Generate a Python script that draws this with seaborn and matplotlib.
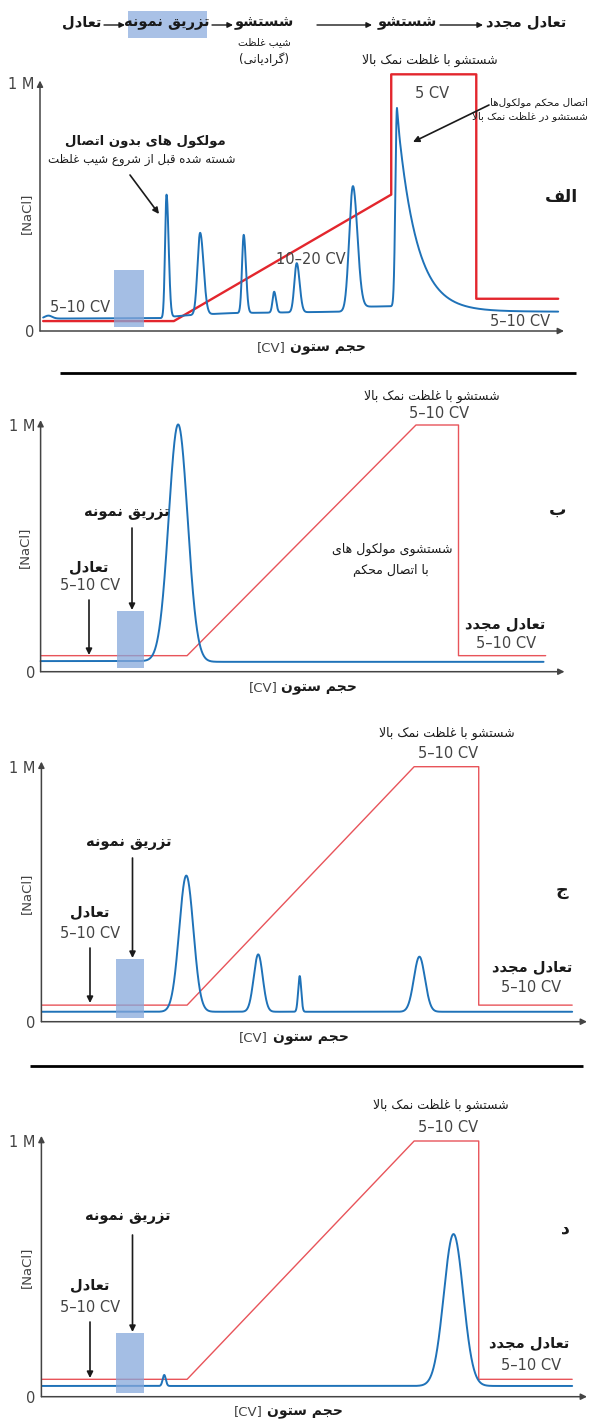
import numpy as np
import matplotlib
matplotlib.use("Agg")
import matplotlib.pyplot as plt
from matplotlib.patches import Rectangle
import seaborn as sns

W, H = 590, 1420
sns.set_theme(style="white")
plt.rcParams["font.family"] = ["DejaVu Sans Condensed", "DejaVu Sans"]

BLUE = "#1f72b8"
RED_A = "#e3262d"
RED = "#e8545a"
INJ = "#86a8db"
HEAD_BOX = "#a9c1e6"
GREY = "#444444"
INK = "#1a1a1a"
PX_PER_CV = 5.25

# ---- Persian shaping (matplotlib has no bidi / joining support) ----
FORMS = {  # isolated, final, initial, medial
    "ا": ("\uFE8D", "\uFE8E", None, None),
    "ب": ("\uFE8F", "\uFE90", "\uFE91", "\uFE92"),
    "ت": ("\uFE95", "\uFE96", "\uFE97", "\uFE98"),
    "ج": ("\uFE9D", "\uFE9E", "\uFE9F", "\uFEA0"),
    "ح": ("\uFEA1", "\uFEA2", "\uFEA3", "\uFEA4"),
    "د": ("\uFEA9", "\uFEAA", None, None),
    "ر": ("\uFEAD", "\uFEAE", None, None),
    "ز": ("\uFEAF", "\uFEB0", None, None),
    "س": ("\uFEB1", "\uFEB2", "\uFEB3", "\uFEB4"),
    "ش": ("\uFEB5", "\uFEB6", "\uFEB7", "\uFEB8"),
    "ص": ("\uFEB9", "\uFEBA", "\uFEBB", "\uFEBC"),
    "ظ": ("\uFEC5", "\uFEC6", "\uFEC7", "\uFEC8"),
    "ع": ("\uFEC9", "\uFECA", "\uFECB", "\uFECC"),
    "غ": ("\uFECD", "\uFECE", "\uFECF", "\uFED0"),
    "ف": ("\uFED1", "\uFED2", "\uFED3", "\uFED4"),
    "ق": ("\uFED5", "\uFED6", "\uFED7", "\uFED8"),
    "ل": ("\uFEDD", "\uFEDE", "\uFEDF", "\uFEE0"),
    "م": ("\uFEE1", "\uFEE2", "\uFEE3", "\uFEE4"),
    "ن": ("\uFEE5", "\uFEE6", "\uFEE7", "\uFEE8"),
    "ه": ("\uFEE9", "\uFEEA", "\uFEEB", "\uFEEC"),
    "و": ("\uFEED", "\uFEEE", None, None),
    "ی": ("\uFBFC", "\uFBFD", "\uFBFE", "\uFBFF"),
    "ک": ("\uFB8E", "\uFB8F", "\uFB90", "\uFB91"),
    "گ": ("\uFB92", "\uFB93", "\uFB94", "\uFB95"),
}


def joins_next(c):
    return c in FORMS and FORMS[c][2] is not None


def rtl(s):
    out = []
    i = 0
    while i < len(s):
        c = s[i]
        if c not in FORMS:
            if c != "\u200c":
                out.append(c)
            i += 1
            continue
        link_prev = i > 0 and joins_next(s[i - 1])
        if c == "ل" and i + 1 < len(s) and s[i + 1] == "ا":
            out.append("\uFEFC" if link_prev else "\uFEFB")
            i += 2
            continue
        nxt = s[i + 1] if i + 1 < len(s) else ""
        link_next = joins_next(c) and nxt in FORMS
        f = FORMS[c]
        if link_prev and link_next:
            out.append(f[3])
        elif link_prev:
            out.append(f[1])
        elif link_next:
            out.append(f[2])
        else:
            out.append(f[0])
        i += 1
    mirror = {"(": ")", ")": "(", "[": "]", "]": "["}
    return "".join(mirror.get(c, c) for c in reversed(out))


# ---- data (x in column volumes from the start, y in M NaCl) ----
# panel A: gradient elution
a_red_x = [0.6, 25.5, 66.9, 66.9, 83.1, 83.1, 98.7]
a_red_y = [0.04, 0.04, 0.55, 1.035, 1.035, 0.13, 0.13]
a_base_x = [0.6, 23.0, 27.0, 36.0, 58.0, 61.5, 68.0, 68.5, 98.7]
a_base_y = [0.050, 0.052, 0.062, 0.072, 0.078, 0.098, 0.100, 0.080, 0.078]
a_peak_x = [1.6, 24.1, 30.5, 38.8, 44.6, 48.9, 59.6, 68.0]
a_peak_h = [0.012, 0.495, 0.33, 0.315, 0.084, 0.198, 0.497, 0.80]
a_sig_l = [0.7, 0.28, 0.5, 0.32, 0.3, 0.45, 0.7, 0.3]
a_sig_r = [0.7, 0.4, 0.65, 0.42, 0.36, 0.55, 0.85, 0.3]
a_tail = [0, 0, 0, 0, 0, 0, 0, 3.6]
a_inject = [14.0, 19.8, 0.017, 0.247]

# panel B: one unbound peak
b_red_x = [0.0, 27.9, 71.5, 79.6, 79.6, 96.2]
b_red_y = [0.065, 0.065, 1.0, 1.0, 0.065, 0.065]
b_base_x = [0.0, 25.0, 30.0, 95.8]
b_base_y = [0.043, 0.043, 0.040, 0.040]
b_peak_x = [26.2]
b_peak_h = [0.96]
b_sig = [1.8]
b_inject = [14.5, 19.7, 0.016, 0.247]

# panel C: several peaks
c_red_x = [0.15, 27.75, 71.0, 83.3, 83.3, 101.1]
c_red_y = [0.065, 0.065, 1.0, 1.0, 0.065, 0.065]
c_base_x = [0.15, 101.1]
c_base_y = [0.039, 0.039]
c_peak_x = [27.6, 41.3, 49.2, 72.0]
c_peak_h = [0.534, 0.225, 0.14, 0.216]
c_sig = [1.35, 0.86, 0.29, 1.05]
c_inject = [14.3, 19.5, 0.015, 0.246]

# panel D: tightly bound peak
d_red_x = [0.15, 27.75, 71.0, 83.3, 83.3, 101.1]
d_red_y = [0.068, 0.068, 1.0, 1.0, 0.068, 0.068]
d_base_x = [0.15, 101.1]
d_base_y = [0.042, 0.042]
d_peak_x = [23.4, 78.5]
d_peak_h = [0.043, 0.594]
d_sig = [0.3, 1.85]
d_inject = [14.3, 19.5, 0.016, 0.249]


def chromatogram(x, base_x, base_y, cen, hgt, sl, sr, tail):
    y = np.interp(x, base_x, base_y)
    for c, h, a, b, t in zip(cen, hgt, sl, sr, tail):
        d = x - c
        left = np.exp(-0.5 * (d / a) ** 2)
        if t > 0:
            right = np.exp(-np.clip(d, 0, None) / t)
        else:
            right = np.exp(-0.5 * (d / b) ** 2)
        y = y + h * np.where(d < 0, left, right)
    return y


fig = plt.figure(figsize=(W / 100, H / 100), dpi=100)


def make_panel(x0, y0, m, xe, yt, ytip):
    ax = fig.add_axes([x0 / W, 1 - y0 / H, (xe - x0) / W, (y0 - yt) / H])
    xmax = (xe - x0) / PX_PER_CV
    ax.set_xlim(0, xmax)
    ax.set_ylim(0, (y0 - yt) / m)
    ax.patch.set_alpha(0)
    sns.despine(ax=ax, left=True, bottom=True)
    ax.set_xticks([])
    ax.set_yticks([0, 1], ["0", "1 M"])
    ax.tick_params(axis="y", length=0, pad=4, labelsize=10.5, labelcolor=GREY)
    ax.set_xlabel("")
    ax.set_ylabel("")
    ap = dict(arrowstyle="-|>", color=GREY, lw=1.1, mutation_scale=9, shrinkA=0, shrinkB=0)
    ax.annotate("", xy=(xmax, 0), xytext=(0, 0), arrowprops=ap, annotation_clip=False)
    ax.annotate("", xy=(0, ytip), xytext=(0, 0), arrowprops=ap, annotation_clip=False)
    return ax


def draw(ax, red_x, red_y, red_col, red_lw, base_x, base_y, cen, hgt, sl, sr, tail, inj):
    x = np.linspace(base_x[0], base_x[-1], 6000)
    y = chromatogram(x, base_x, base_y, cen, hgt, sl, sr, tail)
    sns.lineplot(x=red_x, y=red_y, ax=ax, color=red_col, lw=red_lw, sort=False, estimator=None)
    sns.lineplot(x=x, y=y, ax=ax, color=BLUE, lw=1.4, sort=False, estimator=None)
    for ln in ax.lines:
        ln.set_clip_on(False)
    ax.fill_between([inj[0], inj[1]], inj[2], inj[3], color=INJ, alpha=0.75, lw=0, zorder=5)


ax_a = make_panel(40.0, 331.0, 248.0, 564.0, 70.0, 1.01)
draw(ax_a, a_red_x, a_red_y, RED_A, 1.7, a_base_x, a_base_y,
     a_peak_x, a_peak_h, a_sig_l, a_sig_r, a_tail, a_inject)

ax_b = make_panel(40.6, 671.7, 246.7, 564.5, 418.0, 1.02)
draw(ax_b, b_red_x, b_red_y, RED, 1.0, b_base_x, b_base_y,
     b_peak_x, b_peak_h, b_sig, b_sig, [0] * len(b_sig), b_inject)

ax_c = make_panel(41.4, 1021.7, 255.0, 587.0, 760.0, 1.02)
draw(ax_c, c_red_x, c_red_y, RED, 1.0, c_base_x, c_base_y,
     c_peak_x, c_peak_h, c_sig, c_sig, [0] * len(c_sig), c_inject)

ax_d = make_panel(41.4, 1396.7, 255.7, 587.0, 1135.0, 1.02)
draw(ax_d, d_red_x, d_red_y, RED, 1.0, d_base_x, d_base_y,
     d_peak_x, d_peak_h, d_sig, d_sig, [0] * len(d_sig), d_inject)

# ---- overlay in pixel coordinates (y downwards) for text and pointers ----
ov = fig.add_axes([0, 0, 1, 1])
ov.set_xlim(0, W)
ov.set_ylim(H, 0)
ov.axis("off")
ov.patch.set_visible(False)


def label(x, y, s, size=10, bold=False, color=INK, ha="center", rot=0):
    ov.text(x, y, s, fontsize=size, fontweight="bold" if bold else "normal",
            color=color, ha=ha, va="center", rotation=rot)


def pointer(x1, y1, x2, y2, lw=1.2, head=9):
    ov.annotate("", xy=(x2, y2), xytext=(x1, y1),
                arrowprops=dict(arrowstyle="-|>", color=INK, lw=lw,
                                mutation_scale=head, shrinkA=0, shrinkB=0))


def xlabel(x_cv_right, x_fa_left, y):
    label(x_cv_right, y, "[CV]", size=9.5, color=GREY, ha="right")
    label(x_fa_left, y, rtl("حجم ستون"), size=10, bold=True, ha="left")


CV = 10.5     # latin "x–y CV" notes
BIG = 10.5    # bold persian step names
NOTE = 9      # regular persian notes

# header
ov.add_patch(Rectangle((128, 11), 79, 27, color=HEAD_BOX, lw=0))
label(82, 22, rtl("تعادل"), BIG, True)
label(167, 22, rtl("تزریق نمونه"), BIG, True)
label(264, 22, rtl("شستشو"), BIG, True)
label(264, 42, rtl("شیب غلظت"), 7.5)
label(264, 59, rtl("(گرادیانی)"), 8.5)
label(407, 22, rtl("شستشو"), BIG, True)
label(526, 22, rtl("تعادل مجدد"), BIG, True)
pointer(104, 25, 125, 25, lw=1.0, head=8)
pointer(212, 25, 233, 25, lw=1.0, head=8)
pointer(317, 25, 372, 25, lw=1.0, head=8)
pointer(440, 25, 483, 25, lw=1.0, head=8)

# panel A
label(430, 60, rtl("شستشو با غلظت نمک بالا"), NOTE)
label(432, 93, "5 CV", CV, color=GREY)
label(588, 103, rtl("اتصال محکم مولکول\u200cها"), 7.5, ha="right")
label(588, 116, rtl("شستشو در غلظت نمک بالا"), 7.5, ha="right")
pointer(489, 105, 413, 142)
label(145, 142, rtl("مولکول های بدون اتصال"), 9.5, True)
label(142, 159, rtl("شسته شده قبل از شروع شیب غلظت"), 8.5)
pointer(130, 175, 159, 214)
label(311, 259, "10–20 CV", CV, color=GREY)
label(80, 308, "5–10 CV", CV, color=GREY)
label(520, 322, "5–10 CV", CV, color=GREY)
label(562, 197, rtl("الف"), 12.5, True)
xlabel(286, 290, 348)
label(26, 213, "[NaCl]", 9.5, color=GREY, rot=90)

# separator
ov.plot([60, 576], [373, 373], color="black", lw=2.0, solid_capstyle="butt")

# panel B
label(432, 396, rtl("شستشو با غلظت نمک بالا"), NOTE)
label(439, 414, "5–10 CV", CV, color=GREY)
label(127, 512, rtl("تزریق نمونه"), BIG, True)
pointer(132, 528, 132, 610)
label(89, 567, rtl("تعادل"), BIG, True)
label(90, 586, "5–10 CV", CV, color=GREY)
pointer(89, 600, 89, 655)
label(392, 549, rtl("شستشوی مولکول های"), NOTE)
label(391, 570, rtl("با اتصال محکم"), NOTE)
label(505, 624, rtl("تعادل مجدد"), BIG, True)
label(506, 643, "5–10 CV", CV, color=GREY)
label(558, 510, rtl("ب"), 12.5, True)
xlabel(278, 281, 688)
label(24, 547, "[NaCl]", 9.5, color=GREY, rot=90)

# panel C
label(447, 733, rtl("شستشو با غلظت نمک بالا"), NOTE)
label(448, 753, "5–10 CV", CV, color=GREY)
label(129, 842, rtl("تزریق نمونه"), BIG, True)
pointer(132.5, 858, 132.5, 958)
label(90, 912, rtl("تعادل"), BIG, True)
label(90, 933, "5–10 CV", CV, color=GREY)
pointer(90, 948, 90, 1003)
label(562, 890, rtl("ج"), 12.5, True)
label(532, 967, rtl("تعادل مجدد"), BIG, True)
label(531, 988, "5–10 CV", CV, color=GREY)
xlabel(268, 273, 1038)
label(26, 893, "[NaCl]", 9.5, color=GREY, rot=90)

# separator
ov.plot([30, 583], [1066, 1066], color="black", lw=2.0, solid_capstyle="butt")

# panel D
label(441, 1105, rtl("شستشو با غلظت نمک بالا"), NOTE)
label(448, 1128, "5–10 CV", CV, color=GREY)
label(128, 1217, rtl("تزریق نمونه"), BIG, True)
pointer(132.5, 1235, 132.5, 1332)
label(90, 1285, rtl("تعادل"), BIG, True)
label(90, 1307, "5–10 CV", CV, color=GREY)
pointer(90, 1322, 90, 1378)
label(565, 1228, rtl("د"), 12.5, True)
label(529, 1343, rtl("تعادل مجدد"), BIG, True)
label(531, 1365, "5–10 CV", CV, color=GREY)
xlabel(263, 267, 1412)
label(26, 1267, "[NaCl]", 9.5, color=GREY, rot=90)

fig.savefig("out.png", dpi=100)
